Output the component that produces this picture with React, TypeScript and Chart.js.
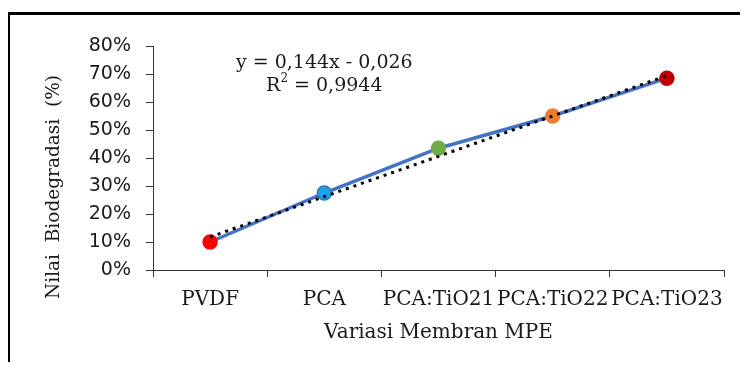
import React, { useEffect, useRef } from "react";
import { Chart, registerables } from "chart.js";

Chart.register(...registerables);

const categories = ["PVDF", "PCA", "PCA:TiO21", "PCA:TiO22", "PCA:TiO23"];
const biodegradasi = [0.10, 0.275, 0.435, 0.55, 0.685];
const trendline = [0.118, 0.262, 0.406, 0.55, 0.694];
const pointColors = ["#FF0000", "#1CA3EC", "#70AD47", "#ED7D31", "#C00000"];
const pointBorders = ["#FF0000", "#2E75B6", "#70AD47", "#ED7D31", "#C00000"];
const yTicks = [0, 0.1, 0.2, 0.3, 0.4, 0.5, 0.6, 0.7, 0.8];
const equationText = "y = 0,144x - 0,026";
const r2Value = " = 0,9944";
const xTitle = "Variasi Membran MPE";
const yTitle = "Nilai  Biodegradasi  (%)";

const SERIF = "'DejaVu Serif', serif";
const SANS = "'DejaVu Sans', sans-serif";
const TEXT = "#1a1a1a";

const annotationPlugin = {
  id: "annot",
  afterDraw(chart: any) {
    const ctx = chart.ctx;
    const xs = chart.scales.x;
    const ys = chart.scales.y;
    const area = chart.chartArea;
    ctx.save();
    ctx.fillStyle = TEXT;
    // equation
    ctx.font = `19px ${SERIF}`;
    ctx.textAlign = "center";
    ctx.textBaseline = "middle";
    const cx = xs.getPixelForValue(1);
    const y1 = ys.getPixelForValue(0.739);
    ctx.fillText(equationText, cx, y1);
    // R^2 line
    const y2 = ys.getPixelForValue(0.657);
    const wR = ctx.measureText("R").width;
    ctx.font = `12px ${SERIF}`;
    const w2 = ctx.measureText("2").width;
    ctx.font = `19px ${SERIF}`;
    const wRest = ctx.measureText(r2Value).width;
    const total = wR + w2 + wRest;
    let sx = cx - total / 2;
    ctx.textAlign = "left";
    ctx.fillText("R", sx, y2);
    sx += wR;
    ctx.font = `12px ${SERIF}`;
    ctx.fillText("2", sx, y2 - 7);
    sx += w2;
    ctx.font = `19px ${SERIF}`;
    ctx.fillText(r2Value, sx, y2);
    // y title
    ctx.translate(54, area.bottom - 83);
    ctx.rotate(-Math.PI / 2);
    ctx.textAlign = "center";
    ctx.textBaseline = "middle";
    ctx.font = `18.5px ${SERIF}`;
    ctx.fillText(yTitle, 0, 0);
    ctx.restore();
  },
};

export default function App() {
  const ref = useRef<HTMLCanvasElement>(null);
  useEffect(() => {
    const canvas = ref.current;
    if (!canvas) return;
    const chart = new Chart(canvas, {
      type: "line",
      data: {
        labels: categories,
        datasets: [
          {
            label: "Trend",
            data: trendline,
            borderColor: "#000000",
            borderWidth: 3,
            borderDash: [3, 5],
            pointRadius: 0,
            fill: false,
            order: 0,
          },
          {
            label: "Nilai Biodegradasi",
            data: biodegradasi,
            borderColor: "#4472C4",
            borderWidth: 3.5,
            pointRadius: 7,
            pointBackgroundColor: pointColors,
            pointBorderColor: pointBorders,
            pointBorderWidth: 1.5,
            fill: false,
            order: 1,
          },
        ],
      },
      options: {
        animation: false,
        responsive: false,
        maintainAspectRatio: false,
        layout: { padding: { top: 46, right: 24, left: 0, bottom: 0 } },
        plugins: { legend: { display: false }, tooltip: { enabled: false } },
        scales: {
          x: {
            type: "category",
            offset: true,
            grid: {
              offset: true,
              drawOnChartArea: false,
              drawTicks: true,
              tickLength: 7,
              color: "#333333",
            },
            border: { display: true, color: "#333333", width: 1 },
            ticks: {
              color: TEXT,
              font: { family: SERIF, size: 20 },
              padding: 11,
              maxRotation: 0,
              autoSkip: false,
            },
            title: {
              display: true,
              text: xTitle,
              color: TEXT,
              font: { family: SERIF, size: 20 },
              padding: { top: 0, bottom: 25 },
            },
            afterFit(scale: any) {
              scale.height = 100;
            },
          },
          y: {
            min: 0,
            max: 0.8,
            afterBuildTicks(scale: any) {
              scale.ticks = yTicks.map((v) => ({ value: v }));
            },
            grid: {
              drawOnChartArea: false,
              drawTicks: true,
              tickLength: 7,
              color: "#333333",
            },
            border: { display: true, color: "#333333", width: 1 },
            ticks: {
              color: TEXT,
              font: { family: SANS, size: 19 },
              padding: 15,
              callback: (v: any) => Math.round(Number(v) * 100) + "%",
            },
            afterFit(scale: any) {
              scale.width = 153;
            },
          },
        },
      },
      plugins: [annotationPlugin],
    });
    return () => chart.destroy();
  }, []);

  return (
    <div style={{ position: "relative", margin: -8, width: 748, height: 370, overflow: "hidden", background: "#fff" }}>
      <div
        style={{
          position: "absolute",
          left: 7,
          top: 12,
          width: 800,
          height: 400,
          borderTop: "3px solid #000",
          borderLeft: "3px solid #000",
        }}
      />
      <canvas ref={ref} width={748} height={370} style={{ position: "absolute", left: 0, top: 0, width: 748, height: 370 }} />
    </div>
  );
}
